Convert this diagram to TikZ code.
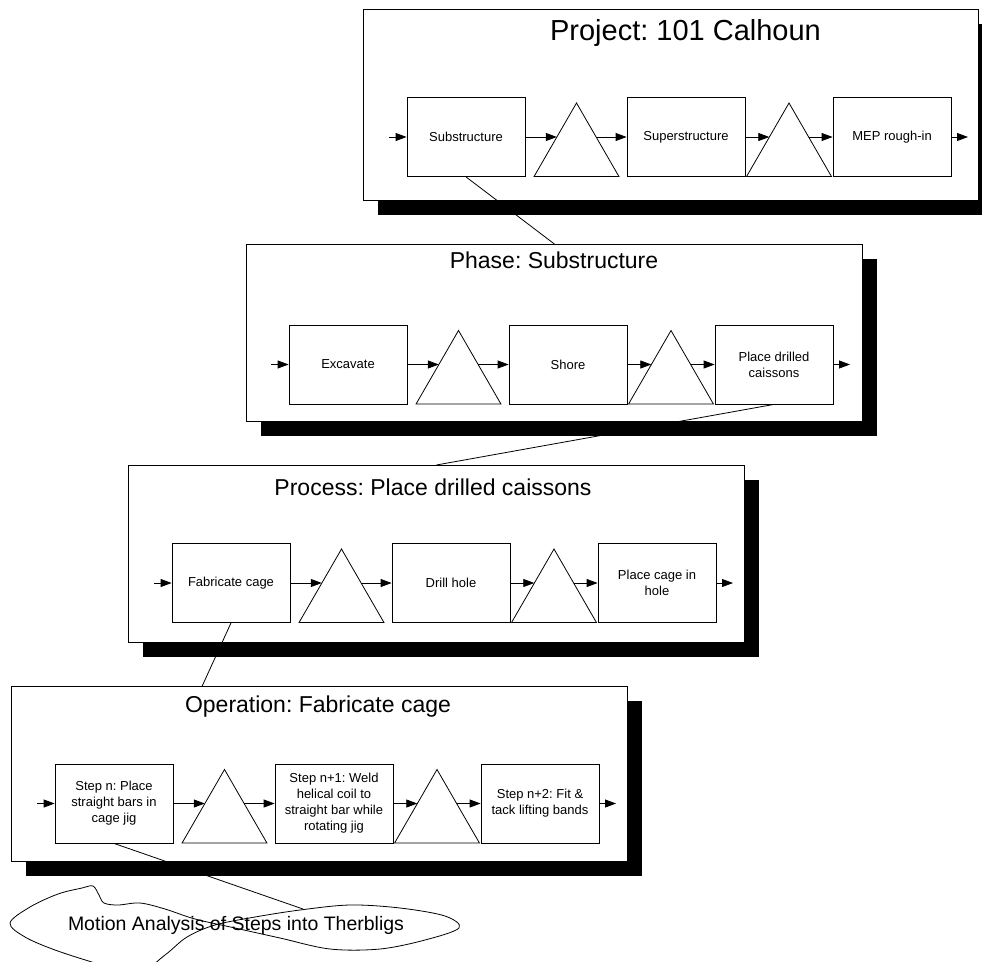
\documentclass[tikz,border=0pt]{standalone}
\usepackage{fontspec}
\setmainfont{Liberation Sans}
\frenchspacing
\usetikzlibrary{shapes.geometric,arrows.meta,calc,shadows}

% one row of the flow: three activity boxes with two wait triangles between
% #1 name prefix, #2 left edge of first box, #3 row centre line, #4-#6 box texts
\newcommand\procrow[6]{%
  \node[stepbox] (#1a) at ({#2+59},#3) {#4};
  \node[stepbox] (#1b) at ({#2+279},#3) {#5};
  \node[stepbox] (#1c) at ({#2+485},#3) {#6};
  \node[waitmark] (#1s) at ({#2+169.5},{#3+15}) {};
  \node[waitmark] (#1u) at ({#2+382},{#3+15}) {};
  \coordinate (#1in) at ({#2-18},#3);
  \coordinate (#1out) at ({#2+561},#3);
  \coordinate (#1sl) at ($(#1s.center)+(-19.7,-15)$);
  \coordinate (#1sr) at ($(#1s.center)+(19.7,-15)$);
  \coordinate (#1ul) at ($(#1u.center)+(-19.7,-15)$);
  \coordinate (#1ur) at ($(#1u.center)+(19.7,-15)$);
  \draw[flowarrow] (#1in) -- (#1a.west);
  \draw[flowarrow] (#1a.east) -- (#1sl);
  \draw[flowarrow] (#1sr) -- (#1b.west);
  \draw[flowarrow] (#1b.east) -- (#1ul);
  \draw[flowarrow] (#1ur) -- (#1c.west);
  \draw[flowarrow] (#1c.east) -- (#1out);
}

\begin{document}
\begin{tikzpicture}[x=1pt,y=-1pt,
  panel/.style={draw=black, line width=0.8pt, fill=white, anchor=north west,
    inner sep=0pt, minimum width=616pt,
    drop shadow={shadow xshift=15pt, shadow yshift=-15pt, opacity=1, fill=black}},
  paneltitle/.style={anchor=base, inner sep=0pt, font=\fontsize{23}{27}\selectfont},
  stepbox/.style={draw=black, line width=0.8pt, fill=white, minimum width=118pt,
    minimum height=79pt, inner sep=2pt, align=center,
    font=\fontsize{13}{16}\selectfont},
  waitmark/.style={draw=black, line width=0.8pt, fill=white, regular polygon,
    regular polygon sides=3, minimum size=98pt, inner sep=0pt},
  flowarrow/.style={line width=0.8pt, -{Triangle[length=11pt,width=8pt]}},
  link/.style={line width=0.8pt}]

\useasboundingbox (0,0) rectangle (982,961);
\clip (0,0) rectangle (982,961);

% --- project level
\node[panel, minimum width=615pt, minimum height=191pt] (p1) at (363,9) {};
\node[paneltitle, font=\fontsize{29}{34}\selectfont] (p1title) at (685.5,40) {Project: 101 Calhoun};
\procrow{p1}{407}{137}{Substructure}{Superstructure}{MEP rough-in}

% --- phase level
\node[panel, minimum height=177pt] (p2) at (246,244) {};
\node[paneltitle] (p2title) at (554,268) {Phase: Substructure};
\procrow{p2}{289}{364.5}{Excavate}{Shore}{Place drilled\\caissons}

% --- process level
\node[panel, minimum height=177pt] (p3) at (128,465) {};
\node[paneltitle] (p3title) at (433,495) {Process: Place drilled caissons};
\procrow{p3}{172}{583}{Fabricate cage}{Drill hole}{Place cage in\\hole}

% --- operation level
\node[panel, minimum height=175pt] (p4) at (11,686) {};
\node[paneltitle] (p4title) at (318,712) {Operation: Fabricate cage};
\procrow{p4}{55}{803.5}{Step n: Place\\straight bars in\\cage jig}{Step n+1: Weld\\helical coil to\\straight bar while\\rotating jig}{Step n+2: Fit \&\\tack lifting bands}

% --- motion analysis outline
\draw[link] plot[smooth cycle, tension=0.55] coordinates {
  (10,923) (30,907) (58,894) (82,888) (93,886) (99,895) (104,903) (118,905)
  (140,903) (165,909) (195,919) (235,928) (280,938) (330,949) (380,949)
  (425,940) (459,928) (445,916) (400,908) (350,905) (300,910) (255,917)
  (215,925) (187,937) (165,955) (135,975) (95,963) (55,950) (25,937)};
\node[inner sep=0pt, font=\fontsize{19.5}{23}\selectfont] (motion) at (236,925)
  {Motion Analysis of Steps into Therbligs};
\coordinate (motiontop) at (303,909);

% --- drill-down links between the levels
\coordinate (p4top) at ($(p4.north west)!0.31!(p4.north east)$);
\draw[link] (p1a.south) -- (p2.north);
\draw[link] (p2c.south) -- (p3.north);
\draw[link] (p3a.south) -- (p4top);
\draw[link] (p4a.south) -- (motiontop);

\end{tikzpicture}
\end{document}
